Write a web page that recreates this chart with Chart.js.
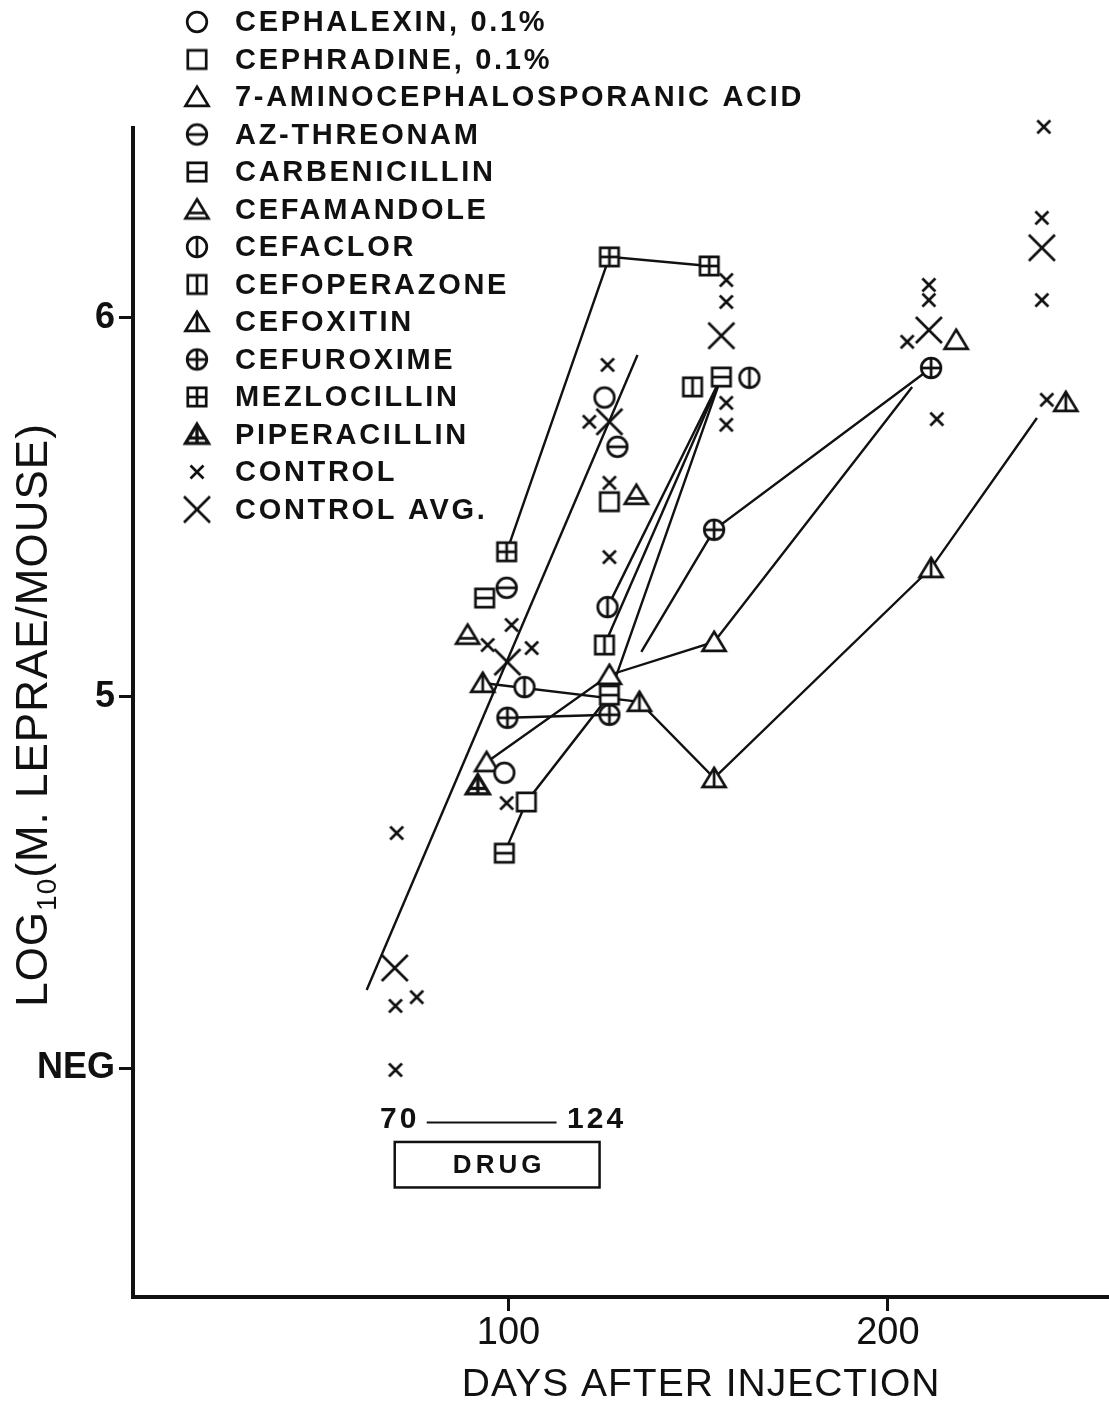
<!DOCTYPE html>
<html lang="en">
<head>
    <meta charset="UTF-8">
    <title>M. leprae growth after drug treatment</title>
    <script src="https://cdn.jsdelivr.net/npm/chart.js@4"></script>
    <style>
        body { margin: 0; background: #fff; }
        #chart { display: block; }
    </style>
</head>
<body>
    <canvas id="chart" width="1109" height="1407"></canvas>

    <script>
        const INK = '#111';
        const FONT = '"Liberation Sans", Arial, Helvetica, sans-serif';

        // key entries, top to bottom
        const drugNames = [
            'CEPHALEXIN, 0.1%', 'CEPHRADINE, 0.1%', '7-AMINOCEPHALOSPORANIC ACID',
            'AZ-THREONAM', 'CARBENICILLIN', 'CEFAMANDOLE', 'CEFACLOR',
            'CEFOPERAZONE', 'CEFOXITIN', 'CEFUROXIME', 'MEZLOCILLIN',
            'PIPERACILLIN', 'CONTROL', 'CONTROL AVG.'
        ];

        // measured points: days after injection / log10 bacilli per mouse
        const cephalexinDays = [98.9, 125.3];
        const cephalexinLogs = [4.80, 5.79];
        const cephradineDays = [104.7, 126.6];
        const cephradineLogs = [4.723, 5.515];
        const acaDays = [94.2, 126.6, 154.2, 218.0];
        const acaLogs = [4.828, 5.058, 5.145, 5.942];
        const aztreonamDays = [99.5, 128.7];
        const aztreonamLogs = [5.288, 5.660];
        const carbenicillinDays = [93.7, 98.9, 126.6, 156.1];
        const carbenicillinLogs = [5.261, 4.588, 5.005, 5.844];
        const cefamandoleDays = [89.2, 133.7];
        const cefamandoleLogs = [5.164, 5.533];
        const cefaclorDays = [104.2, 126.1, 163.5];
        const cefaclorLogs = [5.026, 5.237, 5.842];
        const cefoperazoneDays = [125.3, 148.5];
        const cefoperazoneLogs = [5.137, 5.818];
        const cefoxitinDays = [93.2, 134.5, 154.2, 211.4, 246.9];
        const cefoxitinLogs = [5.037, 4.987, 4.786, 5.340, 5.778];
        const cefuroximeDays = [99.7, 126.6, 154.2, 211.4];
        const cefuroximeLogs = [4.945, 4.953, 5.441, 5.868];
        const mezlocillinDays = [99.5, 126.6, 152.9];
        const mezlocillinLogs = [5.383, 6.161, 6.137];
        const piperacillinDays = [91.9];
        const piperacillinLogs = [4.768];
        const controlDays = [70.5, 70.2, 75.8, 70.2, 100.8, 94.5, 106.1, 99.5, 126.1, 121.3, 126.6, 126.6,
            157.4, 157.4, 157.4, 157.4, 205.1, 210.8, 210.8, 212.9, 241.1, 240.6, 240.6, 241.9];
        const controlLogs = [4.641, 4.185, 4.208, 4.016, 5.190, 5.137, 5.129, 4.720, 5.876, 5.726, 5.565, 5.369,
            6.100, 6.042, 5.776, 5.718, 5.937, 6.087, 6.047, 5.733, 6.504, 6.264, 6.047, 5.784];
        const controlAvgDays = [70.0, 99.7, 126.6, 156.1, 210.8, 240.6];
        const controlAvgLogs = [4.285, 5.092, 5.726, 5.953, 5.968, 6.185];

        // connecting lines as drawn in the figure
        const trendDays = [62.6, 134.0];
        const trendLogs = [4.227, 5.902];
        const mezloLineDays = [99.5, 126.6, 152.9];
        const mezloLineLogs = [5.383, 6.161, 6.137];
        const acaLineDays = [94.2, 126.6, 154.2, 206.4];
        const acaLineLogs = [4.828, 5.058, 5.145, 5.818];
        const cefoxitinLineDays = [93.2, 134.5, 154.2, 211.4, 239.3];
        const cefoxitinLineLogs = [5.037, 4.987, 4.786, 5.340, 5.736];
        const cefuroximeLineADays = [99.7, 126.6];
        const cefuroximeLineALogs = [4.945, 4.953];
        const cefuroximeLineBDays = [135.0, 154.2, 211.4];
        const cefuroximeLineBLogs = [5.119, 5.441, 5.868];
        const carbenicillinLineDays = [98.9, 104.7, 126.6, 156.1];
        const carbenicillinLineLogs = [4.588, 4.723, 5.005, 5.844];
        const cefoperazoneLineDays = [125.3, 156.1];
        const cefoperazoneLineLogs = [5.137, 5.844];
        const cefaclorLineDays = [126.1, 156.1];
        const cefaclorLineLogs = [5.237, 5.844];

        const xTickValues = [100, 200];
        const yTickValues = [4.02, 5, 6];
        const yTickLabels = ['NEG', '5', '6'];

        const drugStart = 70;
        const drugEnd = 124;

        const markerSeries = [
            { kind: 'circle', days: cephalexinDays, logs: cephalexinLogs },
            { kind: 'square', days: cephradineDays, logs: cephradineLogs },
            { kind: 'triangle', days: acaDays, logs: acaLogs },
            { kind: 'circle-h', days: aztreonamDays, logs: aztreonamLogs },
            { kind: 'square-h', days: carbenicillinDays, logs: carbenicillinLogs },
            { kind: 'triangle-h', days: cefamandoleDays, logs: cefamandoleLogs },
            { kind: 'circle-v', days: cefaclorDays, logs: cefaclorLogs },
            { kind: 'square-v', days: cefoperazoneDays, logs: cefoperazoneLogs },
            { kind: 'triangle-v', days: cefoxitinDays, logs: cefoxitinLogs },
            { kind: 'circle-hv', days: cefuroximeDays, logs: cefuroximeLogs },
            { kind: 'square-hv', days: mezlocillinDays, logs: mezlocillinLogs },
            { kind: 'triangle-pip', days: piperacillinDays, logs: piperacillinLogs },
            { kind: 'x', days: controlDays, logs: controlLogs },
            { kind: 'X', days: controlAvgDays, logs: controlAvgLogs }
        ].map((s, i) => ({ ...s, name: drugNames[i] }));

        const linePaths = [
            [trendDays, trendLogs],
            [mezloLineDays, mezloLineLogs],
            [acaLineDays, acaLineLogs],
            [cefoxitinLineDays, cefoxitinLineLogs],
            [cefuroximeLineADays, cefuroximeLineALogs],
            [cefuroximeLineBDays, cefuroximeLineBLogs],
            [carbenicillinLineDays, carbenicillinLineLogs],
            [cefoperazoneLineDays, cefoperazoneLineLogs],
            [cefaclorLineDays, cefaclorLineLogs]
        ];

        // hollow symbols drawn once, used as point styles
        function makeMarker(kind) {
            const size = kind === 'X' ? 36 : 30;
            const c = document.createElement('canvas');
            c.width = size;
            c.height = size;
            const g = c.getContext('2d');
            g.translate(size / 2, size / 2);
            g.strokeStyle = INK;
            g.fillStyle = '#fff';
            g.lineWidth = 2.7;

            const [shape, bars = ''] = kind.split('-');
            const line = (x1, y1, x2, y2) => { g.beginPath(); g.moveTo(x1, y1); g.lineTo(x2, y2); g.stroke(); };

            if (shape === 'x' || shape === 'X') {
                const h = shape === 'x' ? 6.5 : 13;
                line(-h, -h, h, h);
                line(h, -h, -h, h);
                return c;
            }

            g.beginPath();
            if (shape === 'circle') g.arc(0, 0, 9.8, 0, Math.PI * 2);
            if (shape === 'square') g.rect(-9.2, -9.2, 18.4, 18.4);
            if (shape === 'triangle') {
                g.moveTo(0, -10.2);
                g.lineTo(11.5, 8.8);
                g.lineTo(-11.5, 8.8);
                g.closePath();
            }
            if (bars === 'pip') g.lineWidth = 3.3;
            g.fill();
            g.stroke();

            const hasH = bars.includes('h') || bars === 'pip';
            const hasV = bars.includes('v') || bars === 'pip';
            if (shape === 'circle') {
                if (hasH) line(-9.8, 0, 9.8, 0);
                if (hasV) line(0, -9.8, 0, 9.8);
            } else if (shape === 'square') {
                if (hasH) line(-9.2, 0, 9.2, 0);
                if (hasV) line(0, -9.2, 0, 9.2);
            } else {
                if (hasH) line(-7.8, 3.5, 7.8, 3.5);
                if (hasV) line(0, -10.2, 0, 8.8);
            }
            return c;
        }

        const markerImages = {};
        markerSeries.forEach(s => { markerImages[s.kind] = makeMarker(s.kind); });

        const datasets = [];
        markerSeries.forEach(s => {
            datasets.push({
                label: s.name,
                data: s.days.map((d, i) => ({ x: d, y: s.logs[i] })),
                pointStyle: markerImages[s.kind],
                pointRadius: 6,
                showLine: false,
                clip: false,
                order: 0
            });
        });
        linePaths.forEach(([days, logs]) => {
            datasets.push({
                data: days.map((d, i) => ({ x: d, y: logs[i] })),
                showLine: true,
                pointRadius: 0,
                borderColor: INK,
                borderWidth: 2.4,
                tension: 0,
                clip: false,
                order: 1
            });
        });

        // key, drug period box and axis titles
        const overlay = {
            id: 'overlay',
            afterDraw(chart) {
                const { ctx, scales: { x, y } } = chart;
                ctx.save();
                ctx.fillStyle = INK;
                ctx.strokeStyle = INK;

                // key
                ctx.font = 'bold 29px ' + FONT;
                ctx.letterSpacing = '2.7px';
                ctx.textBaseline = 'middle';
                ctx.textAlign = 'left';
                markerSeries.forEach((s, i) => {
                    const rowY = 22 + i * 37.5;
                    const img = markerImages[s.kind];
                    ctx.drawImage(img, 197 - img.width / 2, rowY - img.height / 2);
                    ctx.fillText(s.name, 235, rowY + 1);
                });

                // drug period
                const x0 = x.getPixelForValue(drugStart);
                const x1 = x.getPixelForValue(drugEnd);
                const rowY = y.getPixelForValue(3.885);
                ctx.font = 'bold 30px ' + FONT;
                ctx.letterSpacing = '3px';
                ctx.textAlign = 'center';
                ctx.fillText(String(drugStart), x0 + 5, rowY);
                ctx.fillText(String(drugEnd), x1 - 3, rowY);
                ctx.lineWidth = 2;
                ctx.beginPath();
                ctx.moveTo(x0 + 32, rowY + 3);
                ctx.lineTo(x1 - 43, rowY + 3);
                ctx.stroke();

                const boxTop = y.getPixelForValue(3.826);
                const boxBottom = y.getPixelForValue(3.706);
                ctx.lineWidth = 2.5;
                ctx.strokeRect(x0, boxTop, x1 - x0, boxBottom - boxTop);
                ctx.font = 'bold 26px ' + FONT;
                ctx.letterSpacing = '4px';
                ctx.fillText('DRUG', (x0 + x1) / 2 + 2, (boxTop + boxBottom) / 2 + 1);

                // x title
                ctx.font = '39px ' + FONT;
                ctx.letterSpacing = '1px';
                ctx.fillText('DAYS AFTER INJECTION',
                    (x.getPixelForValue(100) + x.getPixelForValue(200)) / 2 + 3, 1385);

                // y title with subscript
                ctx.translate(47, 715);
                ctx.rotate(-Math.PI / 2);
                ctx.textAlign = 'left';
                ctx.textBaseline = 'alphabetic';
                const big = '44px ' + FONT;
                const small = '28px ' + FONT;
                ctx.font = big;
                const w1 = ctx.measureText('LOG').width;
                const w3 = ctx.measureText('(M. LEPRAE/MOUSE)').width;
                ctx.font = small;
                const w2 = ctx.measureText('10').width;
                let cx = -(w1 + w2 + w3) / 2;
                ctx.font = big;
                ctx.fillText('LOG', cx, 0);
                cx += w1;
                ctx.font = small;
                ctx.fillText('10', cx, 9);
                cx += w2;
                ctx.font = big;
                ctx.fillText('(M. LEPRAE/MOUSE)', cx, 0);

                ctx.restore();
            }
        };

        new Chart(document.getElementById('chart'), {
            type: 'scatter',
            data: { datasets: datasets },
            options: {
                responsive: false,
                animation: false,
                events: [],
                layout: { autoPadding: false, padding: { top: 128, left: 0, right: 0, bottom: 0 } },
                plugins: {
                    legend: { display: false },
                    tooltip: { enabled: false }
                },
                scales: {
                    x: {
                        type: 'linear',
                        min: 1,
                        max: 258.3,
                        afterBuildTicks: axis => { axis.ticks = xTickValues.map(v => ({ value: v })); },
                        afterFit: axis => { axis.height = 110; },
                        ticks: {
                            color: INK,
                            font: { family: FONT, size: 38 },
                            padding: 0,
                            maxRotation: 0,
                            autoSkip: false,
                            callback: v => String(v)
                        },
                        grid: { drawOnChartArea: false, drawTicks: true, tickLength: 14, lineWidth: 3, color: INK },
                        border: { display: true, width: 4, color: INK }
                    },
                    y: {
                        type: 'linear',
                        min: 3.417,
                        max: 6.501,
                        afterBuildTicks: axis => { axis.ticks = yTickValues.map(v => ({ value: v })); },
                        afterFit: axis => { axis.width = 133; },
                        ticks: {
                            color: INK,
                            font: { family: FONT, size: 36, weight: 'bold' },
                            padding: 4,
                            autoSkip: false,
                            callback: v => yTickLabels[yTickValues.indexOf(v)]
                        },
                        grid: { drawOnChartArea: false, drawTicks: true, tickLength: 14, lineWidth: 3, color: INK },
                        border: { display: true, width: 4, color: INK }
                    }
                }
            },
            plugins: [overlay]
        });
    </script>
</body>
</html>
